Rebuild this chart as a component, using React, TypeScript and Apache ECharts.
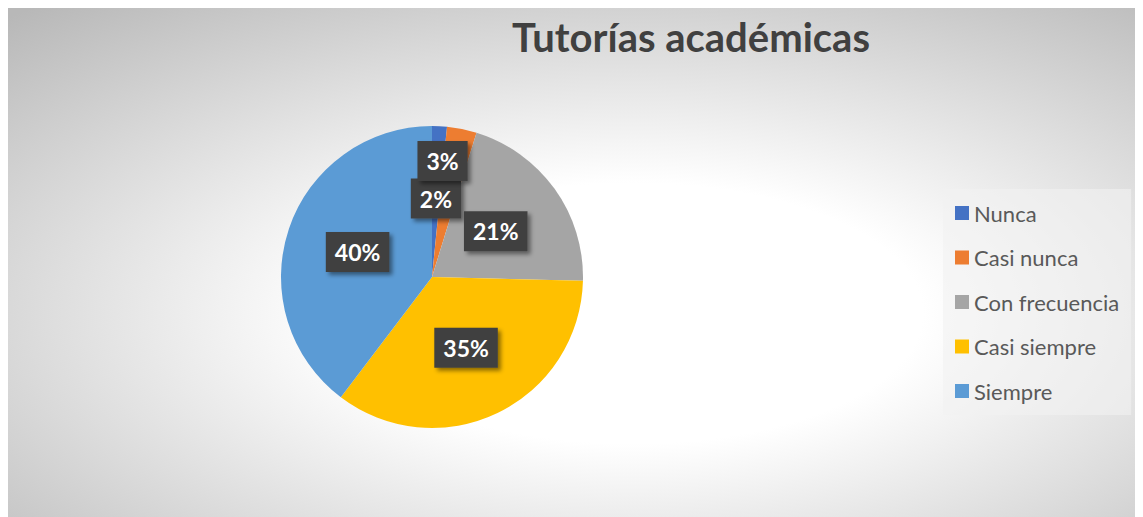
import React, { useEffect, useRef } from "react";
import * as echarts from "echarts";

const titleText = "Tutorías académicas";
const categories = ["Nunca", "Casi nunca", "Con frecuencia", "Casi siempre", "Siempre"];
const counts = [1, 2, 13, 22, 25];
const colors = ["#4472C4", "#ED7D31", "#A5A5A5", "#FFC000", "#5B9BD5"];
const labelOffsets: (number[] | null)[] = [null, [-5, -39], null, null, null];

export default function App() {
  const ref = useRef<HTMLDivElement>(null);
  useEffect(() => {
    if (!ref.current) return;
    const chart = echarts.init(ref.current, undefined, { renderer: "svg" });
    const total = counts.reduce((a, b) => a + b, 0);
    chart.setOption({
      animation: false,
      backgroundColor: {
        type: "radial",
        x: 0.55,
        y: 0.6,
        r: 0.8,
        colorStops: [
          { offset: 0, color: "#ffffff" },
          { offset: 0.32, color: "#ffffff" },
          { offset: 1, color: "#b8b8b8" },
        ],
      },
      color: colors,
      title: {
        text: titleText,
        left: 499,
        top: 4,
        textStyle: {
          fontFamily: "Lato",
          fontWeight: "bold",
          fontSize: 40,
          color: "#404040",
        },
      },
      legend: {
        orient: "vertical",
        left: 935,
        top: 181,
        icon: "rect",
        itemWidth: 14,
        itemHeight: 14,
        itemGap: 22.5,
        padding: [13, 12, 13, 12],
        backgroundColor: "rgba(242,242,242,0.6)",
        textStyle: {
          fontFamily: "Lato",
          fontSize: 22,
          lineHeight: 20,
          color: "#595959",
        },
        data: categories,
      },
      series: [
        {
          type: "pie",
          center: [424, 269],
          radius: [0, 151],
          startAngle: 90,
          clockwise: true,
          silent: true,
          avoidLabelOverlap: false,
          labelLayout: { hideOverlap: false },
          itemStyle: { borderWidth: 0 },
          label: {
            show: true,
            position: "inside",
            formatter: (p: any) => Math.round((p.value / total) * 100) + "%",
            fontFamily: "Lato",
            fontWeight: "bold",
            fontSize: 23,
            lineHeight: 22,
            color: "#ffffff",
            backgroundColor: "#404040",
            padding: [9, 9, 9, 9],
            shadowColor: "rgba(0,0,0,0.45)",
            shadowBlur: 4,
            shadowOffsetX: 3,
            shadowOffsetY: 3,
          },
          labelLine: { show: false },
          data: categories.map((name, i) => {
            const d: any = { name, value: counts[i] };
            if (labelOffsets[i]) d.label = { offset: labelOffsets[i] };
            return d;
          }),
        },
      ],
    });
    return () => chart.dispose();
  }, []);
  return <div ref={ref} style={{ width: 1135, height: 509 }} />;
}
